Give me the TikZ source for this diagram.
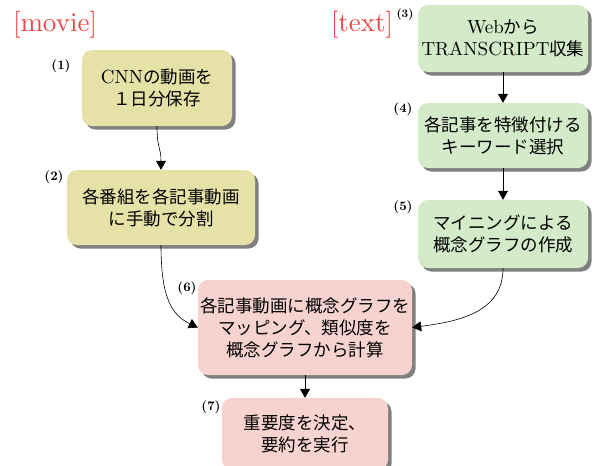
\documentclass[tikz,border=0pt]{standalone}
\usepackage{fontspec}
\newfontfamily\jp{Noto Sans CJK JP}
\newfontfamily\cm{lmroman10-regular}[Extension=.otf, BoldFont=lmroman10-bold]
\newcommand\lat[1]{{\cm\fontsize{19}{22}\selectfont #1}}
\usetikzlibrary{shadows,arrows.meta}
\definecolor{boxyellow}{HTML}{E6E1A6}
\definecolor{boxgreen}{HTML}{D4EBC9}
\definecolor{boxpink}{HTML}{F7D3CF}
\definecolor{headred}{HTML}{F04545}
\tikzset{
  procbox/.style={rounded corners=10pt, align=center, inner sep=0pt,
    font=\jp\fontsize{17.5}{22}\selectfont,
    drop shadow={shadow xshift=3.5pt, shadow yshift=-3.5pt, fill=black!50, opacity=1}},
  stepnum/.style={font=\cm\fontsize{13}{14}\selectfont\bfseries},
  head/.style={font=\cm\fontsize{27}{29}\selectfont, text=headred},
  flow/.style={-{Triangle[length=9pt,width=10pt]}, line width=0.6pt}
}
\begin{document}
\begin{tikzpicture}[x=1pt,y=-1pt]
\useasboundingbox (0,0) rectangle (595,466);
\node[procbox, fill=boxyellow, minimum width=150pt, minimum height=76pt] (b1) at (157,88)
  {\lat{CNN}の動画を\\１日分保存};
\node[procbox, fill=boxyellow, minimum width=188pt, minimum height=75pt] (b2) at (161,207.5)
  {各番組を各記事動画\\に手動で分割};
\node[procbox, fill=boxgreen, minimum width=170pt, minimum height=67pt] (b3) at (503,38.5)
  {\lat{Web}から\\\lat{TRANSCRIPT}収集};
\node[procbox, fill=boxgreen, minimum width=170pt, minimum height=65pt] (b4) at (503,135.5)
  {各記事を特徴付ける\\キーワード選択};
\node[procbox, fill=boxgreen, minimum width=170pt, minimum height=68pt] (b5) at (503,234)
  {マイニングによる\\概念グラフの作成};
\node[procbox, fill=boxpink, minimum width=214pt, minimum height=95pt] (b6) at (305,327.5)
  {各記事動画に概念グラフを\\マッピング、類似度を\\概念グラフから計算};
\node[procbox, fill=boxpink, minimum width=166pt, minimum height=72pt] (b7) at (305,434)
  {重要度を決定、\\要約を実行};
\node[head] (hm) at (55,25) {[movie]};
\node[head] (ht) at (362,25) {[text]};
\node[stepnum] (n1) at (61,66) {(1)};
\node[stepnum] (n2) at (54,177) {(2)};
\node[stepnum, font=\cm\fontsize{11.5}{12}\selectfont\bfseries] (n3) at (405,15) {(3)};
\node[stepnum] (n4) at (403,109) {(4)};
\node[stepnum] (n5) at (403,207) {(5)};
\node[stepnum] (n6) at (187,288) {(6)};
\node[stepnum] (n7) at (211,407) {(7)};
\draw[flow] (b1.south) .. controls +(0,22) and +(0,-22) .. (b2.north);
\draw[flow] (b3.south) -- (b4.north);
\draw[flow] (b4.south) -- (b5.north);
\draw[flow] (b2.south) .. controls +(0,55) and +(-25,-12) .. (b6.west);
\draw[flow] (b5.south) .. controls +(0,45) and +(45,-6) .. (b6.east);
\draw[flow] (b6.south) -- (b7.north);
\end{tikzpicture}
\end{document}
